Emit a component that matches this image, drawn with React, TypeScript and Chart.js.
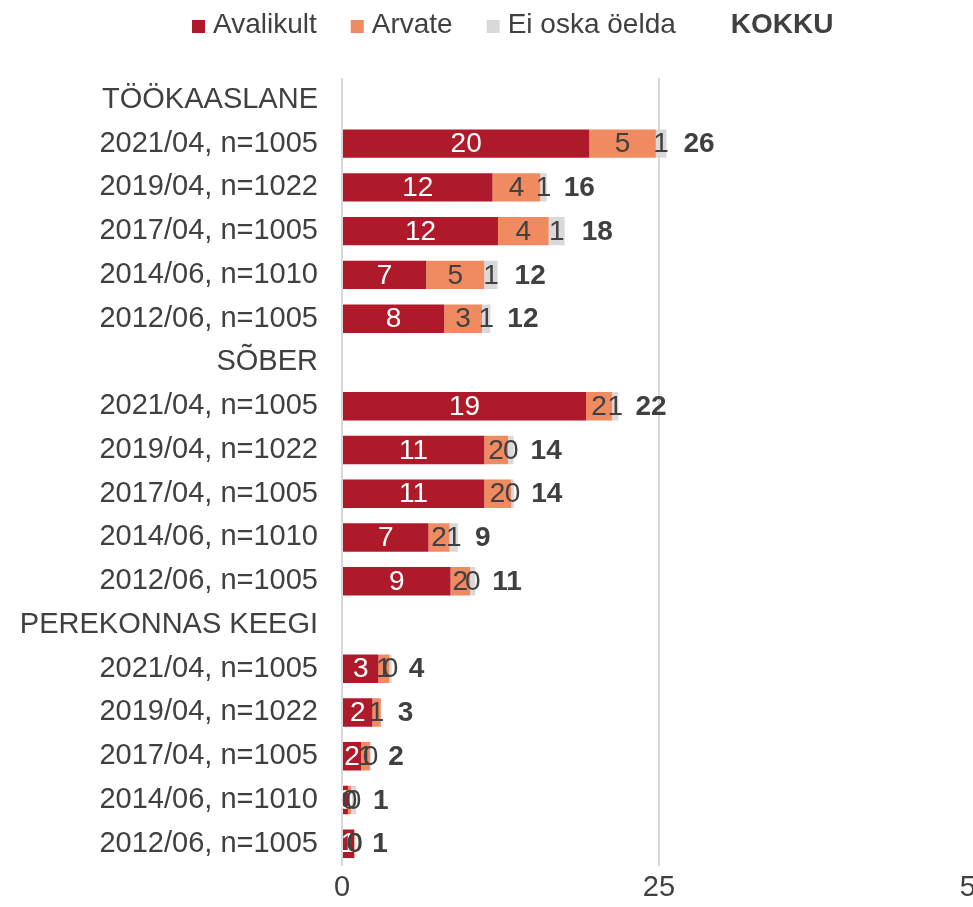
import React, { useEffect, useRef } from 'react';
import { Chart, registerables } from 'chart.js';

Chart.register(...registerables);

const categories = [
  'TÖÖKAASLANE',
  '2021/04, n=1005',
  '2019/04, n=1022',
  '2017/04, n=1005',
  '2014/06, n=1010',
  '2012/06, n=1005',
  'SÕBER',
  '2021/04, n=1005',
  '2019/04, n=1022',
  '2017/04, n=1005',
  '2014/06, n=1010',
  '2012/06, n=1005',
  'PEREKONNAS KEEGI',
  '2021/04, n=1005',
  '2019/04, n=1022',
  '2017/04, n=1005',
  '2014/06, n=1010',
  '2012/06, n=1005',
];

const avalikult = [null, 19.5, 11.87, 12.3, 6.64, 8.06, null, 19.25, 11.22, 11.22, 6.82, 8.56, null, 2.87, 2.4, 1.5, 0.47, 0.95];
const arvate = [null, 5.25, 3.77, 4.0, 4.58, 2.98, null, 2.05, 1.87, 2.11, 1.66, 1.55, null, 0.87, 0.66, 0.7, 0.24, 0.05];
const eiOskaOelda = [null, 0.84, 0.5, 1.26, 1.05, 0.66, null, 0.5, 0.44, 0.25, 0.66, 0.4, null, 0.18, 0, 0.1, 0.4, 0.05];

const seriesNames = ['Avalikult', 'Arvate', 'Ei oska öelda'];
const totalLabel = 'KOKKU';
const xMin = 0;
const xMax = 50;
const xStep = 25;

const COLORS = ['#AF1A2B', '#F08B61', '#D9D9D9'];
const TEXT = '#404040';
const FONT = "'Liberation Sans', Arial, sans-serif";
const FS = 28;
const AXIS_FS = 29;

const labelPlugin = {
  id: 'barLabels',
  afterDatasetsDraw(chart: any) {
    const ctx = chart.ctx;
    ctx.save();
    ctx.font = `${FS}px ${FONT}`;
    ctx.textBaseline = 'middle';
    ctx.textAlign = 'center';
    chart.data.datasets.forEach((ds: any, i: number) => {
      const meta = chart.getDatasetMeta(i);
      meta.data.forEach((el: any, j: number) => {
        const v = ds.data[j];
        if (v == null || v === 0) return;
        const { x, base, y } = el.getProps(['x', 'base', 'y'], true);
        ctx.fillStyle = i === 0 ? '#FFFFFF' : TEXT;
        ctx.fillText(String(Math.round(v)), (x + base) / 2, y + 1);
      });
    });
    ctx.font = `bold ${FS}px ${FONT}`;
    ctx.textAlign = 'left';
    ctx.fillStyle = TEXT;
    const xs = chart.scales.x;
    const ys = chart.scales.y;
    categories.forEach((_, j) => {
      const vals = [avalikult[j], arvate[j], eiOskaOelda[j]];
      if (vals.every((v) => v == null)) return;
      const sum = vals.reduce((a: number, v) => a + (v ?? 0), 0);
      ctx.fillText(String(Math.round(sum)), xs.getPixelForValue(sum) + 17, ys.getPixelForValue(j) + 1);
    });
    ctx.restore();
  },
};

const legendPlugin = {
  id: 'customLegend',
  afterDraw(chart: any) {
    const ctx = chart.ctx;
    ctx.save();
    let x = 192;
    const cy = 25;
    ctx.textBaseline = 'middle';
    ctx.textAlign = 'left';
    seriesNames.forEach((name, i) => {
      ctx.fillStyle = COLORS[i];
      ctx.fillRect(x, cy - 5, 13, 13);
      ctx.font = `${FS}px ${FONT}`;
      ctx.fillStyle = TEXT;
      ctx.fillText(name, x + 21, cy);
      x += 21 + ctx.measureText(name).width + 34;
    });
    ctx.font = `bold ${FS}px ${FONT}`;
    ctx.fillStyle = TEXT;
    ctx.fillText(totalLabel, x + 21, cy);
    ctx.restore();
  },
};

export default function App() {
  const ref = useRef<HTMLCanvasElement>(null);

  useEffect(() => {
    if (!ref.current) return;
    const chart = new Chart(ref.current, {
      type: 'bar',
      data: {
        labels: categories,
        datasets: [
          { label: seriesNames[0], data: avalikult as any, backgroundColor: COLORS[0] },
          { label: seriesNames[1], data: arvate as any, backgroundColor: COLORS[1] },
          { label: seriesNames[2], data: eiOskaOelda as any, backgroundColor: COLORS[2] },
        ],
      },
      options: {
        indexAxis: 'y',
        responsive: false,
        animation: false,
        devicePixelRatio: 1,
        layout: { padding: { top: 78, right: 24, bottom: 0, left: 0 } },
        datasets: {
          bar: { barPercentage: 0.65, categoryPercentage: 1.0, borderWidth: 0 },
        },
        plugins: {
          legend: { display: false },
          tooltip: { enabled: false },
        },
        scales: {
          x: {
            type: 'linear',
            stacked: true,
            min: xMin,
            max: xMax,
            ticks: {
              stepSize: xStep,
              color: TEXT,
              font: { family: FONT, size: AXIS_FS },
              padding: 5,
              maxRotation: 0,
              autoSkip: false,
            },
            grid: { color: '#D9D9D9', lineWidth: 2, drawTicks: false },
            border: { display: false },
            afterFit: (scale: any) => {
              scale.height = 33;
            },
          },
          y: {
            type: 'category',
            stacked: true,
            ticks: {
              color: TEXT,
              font: { family: FONT, size: AXIS_FS },
              padding: 24,
              autoSkip: false,
            },
            grid: { display: false, drawTicks: false },
            border: { display: false },
            afterFit: (scale: any) => {
              scale.width = 342;
            },
          },
        },
      },
      plugins: [labelPlugin, legendPlugin],
    } as any);
    return () => chart.destroy();
  }, []);

  return (
    <div
      style={{
        position: 'absolute',
        left: 0,
        top: 0,
        width: 973,
        height: 907,
        overflow: 'hidden',
        background: '#FFFFFF',
      }}
    >
      <canvas ref={ref} width={1000} height={907} style={{ display: 'block', width: 1000, height: 907 }} />
    </div>
  );
}
